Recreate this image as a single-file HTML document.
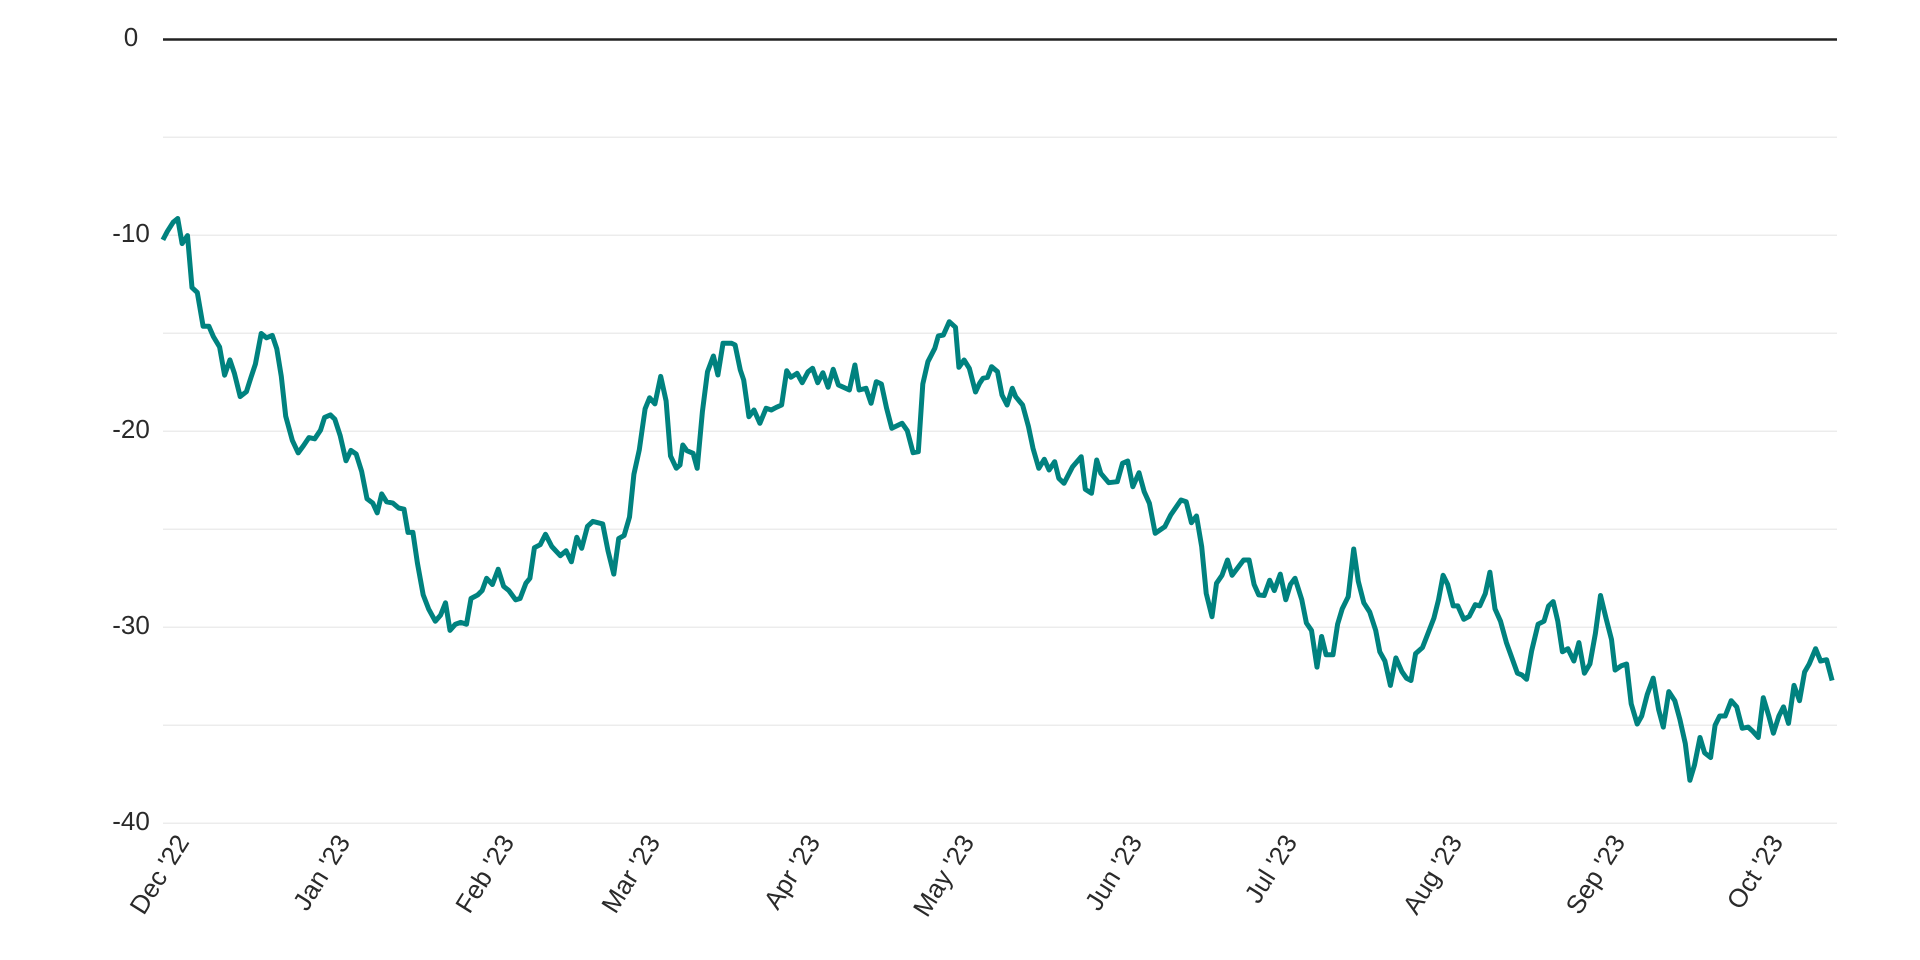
<!DOCTYPE html>
<html><head><meta charset="utf-8"><style>
html,body{margin:0;padding:0;background:#fff;}
svg{display:block;}
text{font-family:"Liberation Sans",sans-serif;fill:#2a2a2a;font-size:26px;}
</style></head><body>
<svg id="s" width="1920" height="960" viewBox="0 0 1920 960">
<g stroke="#e6e6e6" stroke-width="1.2">
<line x1="163" x2="1837" y1="137.2" y2="137.2"/>
<line x1="163" x2="1837" y1="235.2" y2="235.2"/>
<line x1="163" x2="1837" y1="333.2" y2="333.2"/>
<line x1="163" x2="1837" y1="431.2" y2="431.2"/>
<line x1="163" x2="1837" y1="529.2" y2="529.2"/>
<line x1="163" x2="1837" y1="627.2" y2="627.2"/>
<line x1="163" x2="1837" y1="725.2" y2="725.2"/>
<line x1="163" x2="1837" y1="823.2" y2="823.2"/>
</g>
<line x1="163" x2="1837" y1="39.5" y2="39.5" stroke="#222" stroke-width="2.5"/>
<g text-anchor="middle" dominant-baseline="middle">
<text x="131" y="39">0</text>
<text x="131" y="235">-10</text>
<text x="131" y="431">-20</text>
<text x="131" y="627">-30</text>
<text x="131" y="823">-40</text>
</g>
<g text-anchor="end" id="xl"></g>
<polyline id="ln" fill="none" stroke="#00827f" stroke-width="5" stroke-linejoin="round" stroke-linecap="butt"/>
</svg>
<script>
var z1=[365,392,375,378,388,363,398,357,408,398,420,385,430,470,442,478,455,533,468,533,478,550,492,567,503,613,515,588,525,610,538,648,552,640,562,617,572,595,585,545,597,552,610,548,620,570,630,615,640,680,655,720,668,740,680,728,692,715,705,717,718,703,727,682,740,678,750,685,762,712,775,753,786,736,798,742,810,770,822,815,835,822,845,838,855,807,866,820,880,822,893,830,905,832,914,870,925,870,935,920,948,972,960,995,975,1015,987,1005,998,985,1008,1030,1020,1020,1032,1017,1045,1020,1055,978,1070,972,1080,965,1090,945,1103,955,1116,930,1128,958,1140,965,1155,980,1165,978,1178,953,1187,945,1197,895,1210,890,1222,873,1236,893,1255,908,1268,900,1280,918,1292,878,1303,896,1316,860,1328,852,1350,856,1362,900,1375,938,1386,880,1398,875,1410,845,1420,775,1432,735,1445,668,1455,650,1467,660,1480,615,1492,655,1502,745,1515,765];
var z4=[0,555,8,495,20,512,38,520,50,565,65,395,80,275,97,228,110,285,125,190,150,190,160,195,175,270,185,300,200,410,215,390,232,430,250,385,265,390,280,382,295,375,310,272,322,292,340,280,355,308,372,275,385,265,400,308,415,278,430,322,445,268,460,315,475,322,492,330,508,255,520,330,540,325,555,370,570,305,585,312,600,385,615,445,645,430,660,452,677,518,692,515,705,312,720,245,740,205,750,168,765,165,782,125,800,142,810,262,825,240,840,265,858,336,870,310,880,295,893,292,905,260,922,275,935,345,950,375,965,325,975,350,995,375,1012,440,1025,505,1042,565,1058,538,1072,570,1088,545,1100,595,1115,610,1140,560,1165,530,1177,628,1195,640,1210,540,1222,580,1245,608,1270,605,1285,550,1300,543,1315,620,1333,578,1348,635,1363,670,1380,760,1408,740,1425,705,1455,660,1470,665,1485,728,1500,708,1515,800,1528,940,1545,1010,1558,910];
var z2=[48,940,60,915,70,940,85,925,95,915,107,915,118,955,128,972,140,973,152,948,162,965,175,938,187,980,197,955,207,945,222,980,232,1018,243,1030,255,1090,265,1040,275,1070,290,1070,300,1020,310,995,323,975,335,897,345,950,357,985,370,1000,383,1030,392,1065,403,1080,415,1120,427,1075,440,1097,450,1108,460,1112,470,1068,485,1058,497,1035,510,1010,520,980,530,940,540,955,552,990,562,990,575,1012,587,1007,600,988,610,990,622,970,632,935,643,995,655,1015,668,1050,680,1075,692,1100,702,1103,712,1110,723,1063,737,1020,750,1015,760,990,770,983,780,1015,790,1065,802,1060,815,1080,826,1050,838,1100,850,1085,862,1035,873,973,885,1010,897,1045,905,1095,918,1088,930,1085,940,1150,953,1183,963,1170,975,1135,988,1108,1000,1160,1010,1188,1022,1130,1035,1145,1046,1175,1058,1215,1068,1275,1078,1250,1090,1205,1100,1230,1113,1238,1123,1185,1133,1170,1145,1170,1158,1145,1170,1155,1182,1190,1195,1188,1205,1195,1217,1205,1228,1140,1240,1170,1250,1198,1262,1170,1272,1155,1283,1182,1295,1120,1307,1145,1318,1098,1328,1085,1342,1060,1353,1080,1366,1078,1378,1112];
var pts=[];
function add(a,ox,oy,sx,sy){for(var i=0;i<a.length;i+=2){pts.push((ox+a[i]/sx).toFixed(1)+","+(oy+a[i+1]/sy).toFixed(1));}}
add(z1,0,0,2.24,1.634);
add(z4,680,280,2.904,3);
add(z2,1200,0,2.18,1.634);
document.getElementById("ln").setAttribute("points",pts.join(" "));
var labs=[["Dec '22",192],["Jan '23",353],["Feb '23",517],["Mar '23",663],["Apr '23",823],["May '23",977],["Jun '23",1145],["Jul '23",1300],["Aug '23",1465],["Sep '23",1628],["Oct '23",1786]];
var g=document.getElementById("xl"),h="";
labs.forEach(function(l){h+='<text transform="translate('+(l[1]-2)+',842) rotate(-58)">'+l[0]+'</text>';});
g.innerHTML=h;
</script>
</body></html>
